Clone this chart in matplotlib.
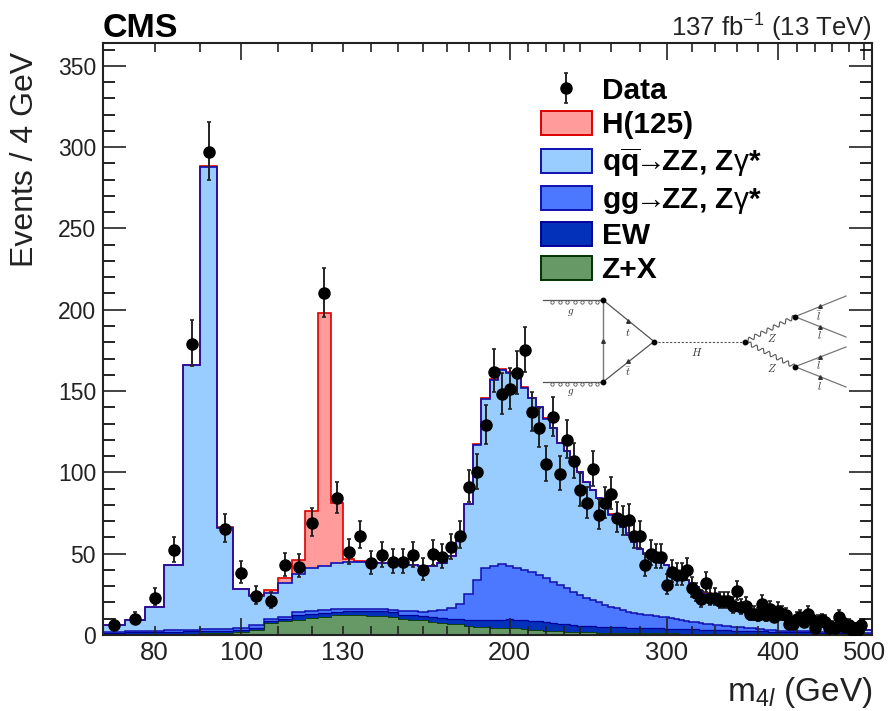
import numpy as np
import matplotlib
matplotlib.use('Agg')
import matplotlib.pyplot as plt
import matplotlib.patches as mpatches

plt.rcParams['font.family'] = ['Liberation Sans', 'DejaVu Sans']
plt.rcParams['mathtext.fontset'] = 'custom'
plt.rcParams['mathtext.rm'] = 'Liberation Sans'
plt.rcParams['mathtext.it'] = 'Liberation Sans:italic'
plt.rcParams['mathtext.bf'] = 'Liberation Sans:bold'

#data, 4 GeV bins from 70 to 510
edges = np.arange(70, 514, 4)

data_y = [6, 10, 23, 52, 179, 297, 65, 38, 24, 21,
          43, 42, 69, 210, 84, 51, 61, 44, 49, 45,
          45, 49, 40, 50, 48, 54, 61, 91, 100, 129,
          162, 148, 151, 161, 175, 137, 127, 105, 134, 99,
          120, 107, 89, 81, 102, 74, 81, 87, 72, 70,
          71, 61, 61, 43, 50, 48, 48, 31, 39, 37,
          37, 40, 29, 26, 22, 32, 23, 23, 21, 21,
          21, 18, 27, 17, 18, 13, 13, 12, 19, 12,
          16, 11, 15, 13, 12, 7, 7, 10, 11, 8,
          13, 10, 4, 8, 9, 8, 4, 5, 4, 11,
          8, 5, 6, 3, 4, 3, 6]
data_dn = [2.4, 3.1, 4.8, 7.2, 13.4, 17.2, 8.1, 6.2, 4.9, 4.6,
           6.6, 6.5, 8.3, 14.5, 9.2, 7.1, 7.8, 6.6, 7.0, 6.7,
           6.7, 7.0, 6.3, 7.1, 6.9, 7.3, 7.8, 9.5, 10.0, 11.4,
           12.7, 12.2, 12.3, 12.7, 13.2, 11.7, 11.3, 10.2, 11.6, 9.9,
           11.0, 10.3, 9.4, 9.0, 10.1, 8.6, 9.0, 9.3, 8.5, 8.4,
           8.4, 7.8, 7.8, 6.6, 7.1, 6.9, 6.9, 5.6, 6.2, 6.1,
           6.1, 6.3, 5.4, 5.1, 4.7, 5.7, 4.8, 4.8, 4.6, 4.6,
           4.6, 4.2, 5.2, 4.1, 4.2, 3.6, 3.6, 3.5, 4.4, 3.5,
           4.0, 3.3, 3.9, 3.6, 3.5, 2.6, 2.6, 3.1, 3.3, 2.8,
           3.6, 3.1, 1.9, 2.8, 3.0, 2.8, 1.9, 2.2, 1.9, 3.3,
           2.8, 2.2, 2.4, 1.6, 1.9, 1.6, 2.4]
data_up = [3.6, 4.3, 5.9, 8.3, 14.4, 18.2, 9.1, 7.2, 6.0, 5.7,
           7.6, 7.5, 9.3, 15.5, 10.2, 8.2, 8.9, 7.7, 8.0, 7.7,
           7.7, 8.0, 7.4, 8.2, 8.0, 8.4, 8.9, 10.6, 11.0, 12.4,
           13.7, 13.2, 13.3, 13.7, 14.2, 12.7, 12.3, 11.3, 12.6, 11.0,
           12.0, 11.3, 10.5, 10.0, 11.1, 9.6, 10.0, 10.4, 9.5, 9.4,
           9.4, 8.9, 8.9, 7.7, 8.2, 8.0, 8.0, 6.6, 7.3, 7.1,
           7.1, 7.4, 6.5, 6.2, 5.8, 6.7, 5.9, 5.9, 5.7, 5.7,
           5.7, 5.3, 6.3, 5.2, 5.3, 4.7, 4.7, 4.6, 5.5, 4.6,
           5.1, 4.4, 5.0, 4.7, 4.6, 3.8, 3.8, 4.3, 4.4, 4.0,
           4.7, 4.3, 3.2, 4.0, 4.1, 4.0, 3.2, 3.4, 3.2, 4.4,
           4.0, 3.4, 3.6, 2.9, 3.2, 2.9, 3.6]

#top of each stacked layer
top_qq = [6, 9, 17, 43, 166, 288, 66, 28, 24, 26,
          32, 37.5, 41.5, 42.7, 44, 45, 45, 44.5, 44, 44,
          43.5, 43, 42.5, 42.4, 44, 48.6, 60, 80.5, 117, 145,
          157, 163, 161, 159, 152, 145.5, 140, 133, 127, 118,
          113, 108, 100, 94, 89, 84, 81, 74, 70, 66.5,
          61.5, 57, 53, 50, 48, 46, 44.5, 43, 41, 38,
          36, 34, 32, 29.5, 27, 25.5, 24, 23, 22, 21,
          20, 19, 18.5, 18, 17, 16, 15, 14.4, 14, 13,
          12.5, 12, 11.2, 11, 10, 9.5, 9, 8.3, 8, 7.5,
          7.2, 6.8, 6.6, 6.3, 6, 5.6, 5.3, 5, 4.8, 4.6,
          4.4, 4.2, 4, 3.8, 3.5, 3.3, 3.2, 3, 2.9, 2.8]
h_yield = [0, 0, 0, 0, 0, 0.3, 0.3, 0.2, 0.6, 1.7,
           3.3, 8.5, 35, 155, 37, 2, 0.3, 0.3, 0.3, 0.2,
           0.2, 0.2, 0.2, 0.2, 0.2, 0.2, 0.2, 0.2, 0.4, 0.5,
           0.5, 0.5, 0.5, 0.4, 0.4, 0.4, 0.3, 0.3, 0.3, 0.3,
           0.3, 0.2, 0.2, 0.2, 0.2, 0.2, 0.2, 0.2, 0.2, 0.2,
           0.1, 0.1, 0.1, 0.1, 0.1, 0.1, 0.1, 0.1, 0.1, 0.1,
           0.1, 0.1, 0.1, 0.1, 0.1, 0.1, 0.1, 0.1, 0.1, 0.1,
           0, 0, 0, 0, 0, 0, 0, 0, 0, 0,
           0, 0, 0, 0, 0, 0, 0, 0, 0, 0,
           0, 0, 0, 0, 0, 0, 0, 0, 0, 0,
           0, 0, 0, 0, 0, 0, 0, 0, 0, 0]
top_gg = [2, 2.3, 2.6, 2.9, 3.2, 3.4, 3.6, 4.2, 6, 10,
          11.2, 14.4, 15, 15.5, 16, 16, 16.2, 16, 15.7, 15.3,
          14.8, 14.5, 14.3, 15, 15.4, 16.4, 19, 25, 34, 41,
          42.6, 43.5, 42.6, 41.5, 40, 38.5, 37, 35, 32.4, 30.7,
          28.7, 26.6, 24.6, 22.5, 21.5, 20, 18.4, 17.4, 16.4, 15.4,
          14.3, 13.6, 13, 12.3, 12, 11.5, 11, 10.9, 10.2, 9.6,
          9, 8.6, 8.2, 7.8, 7.4, 7, 6.7, 6.4, 6.2, 5.8,
          5.5, 5.2, 5, 4.7, 4.4, 4.2, 4, 3.8, 3.6, 3.3,
          3.1, 2.9, 2.7, 2.6, 2.55, 2.5, 2.45, 2.4, 2.35, 2.3,
          2.2, 2.1, 2, 1.9, 1.85, 1.8, 1.75, 1.7, 1.65, 1.6,
          1.55, 1.5, 1.45, 1.4, 1.35, 1.3, 1.25, 1.2, 1.15, 1.1]
top_ew = [1.5, 1.7, 1.9, 2, 2.2, 2.4, 2.6, 3, 4.5, 8.5,
          9.8, 12.5, 13.2, 13.8, 14.2, 14.8, 15, 14.8, 14.5, 14,
          12.5, 12, 11.5, 11, 10.5, 10, 9.8, 9.5, 9.2, 9,
          9, 9, 9.6, 9.4, 9, 8.8, 8.4, 8, 7.6, 7,
          6.6, 6, 5.6, 5.4, 5.3, 5.2, 5.1, 5, 4.9, 4.8,
          4.6, 4.5, 4.4, 4.3, 4.2, 4.1, 4, 3.9, 3.8, 3.7,
          3.6, 3.6, 3.5, 3.4, 3.3, 3.2, 3.1, 3, 2.9, 2.8,
          2.8, 2.7, 2.7, 2.6, 2.5, 2.5, 2.4, 2.3, 2.3, 2.2,
          2.1, 2.1, 2, 2, 1.9, 1.9, 1.8, 1.8, 1.7, 1.7,
          1.6, 1.6, 1.5, 1.5, 1.4, 1.4, 1.3, 1.3, 1.2, 1.2,
          1.1, 1.1, 1.1, 1, 1, 1, 0.9, 0.9, 0.9, 0.8]
top_zx = [0.5, 0.6, 0.7, 0.8, 0.9, 1, 1.2, 1.7, 3, 7.5,
          8.5, 9.5, 10.5, 11, 12, 12.3, 12, 11.8, 11.5, 11,
          10, 9.5, 9, 8.2, 7.5, 7, 6.5, 5.8, 5.2, 4.8,
          4.5, 4.3, 4.2, 4, 3.6, 3.2, 3, 2.7, 2.5, 2.3,
          2.1, 2, 1.8, 1.7, 1.6, 1.5, 1.5, 1.4, 1.4, 1.3,
          1.3, 1.2, 1.2, 1.2, 1.1, 1.1, 1.1, 1, 1, 1,
          0.9, 0.9, 0.9, 0.9, 0.8, 0.8, 0.8, 0.8, 0.7, 0.7,
          0.7, 0.7, 0.7, 0.6, 0.6, 0.6, 0.6, 0.6, 0.6, 0.5,
          0.5, 0.5, 0.5, 0.5, 0.5, 0.5, 0.5, 0.4, 0.4, 0.4,
          0.4, 0.4, 0.4, 0.4, 0.4, 0.4, 0.4, 0.4, 0.3, 0.3,
          0.3, 0.3, 0.3, 0.3, 0.3, 0.3, 0.3, 0.3, 0.3, 0.3]

major_x = [100, 200, 300, 400, 500]
minor_x = [70, 80, 90, 110, 120, 130, 140, 150, 160, 170, 180, 190, 210, 220, 230, 240,
           260, 280, 320, 340, 360, 380, 420, 440, 460, 480]
label_x = [80, 100, 130, 200, 300, 400, 500]

h_color = ('#ff9b9b', '#dd0000')
qq_color = ('#99ccff', '#1010b0')
gg_color = ('#4b78ff', '#1010b0')
ew_color = ('#0331b9', '#000099')
zx_color = ('#669966', '#003300')

fig = plt.figure(figsize=(8.89, 7.11), dpi=100)
ax = fig.add_axes([103/889, 1-635/711, (872-103)/889, (635-43)/711])

#draw back to front so the stack hides what is behind it
top_h = np.array(top_qq) + np.array(h_yield)
for top, col, w in [(top_h, h_color, 1.2), (top_qq, qq_color, 1.2), (top_gg, gg_color, 1.1),
                    (top_ew, ew_color, 0.9), (top_zx, zx_color, 0.6)]:
    ax.stairs(top, edges, baseline=0, fill=True, color=col[0], zorder=1)
    ax.stairs(top, edges, baseline=0, fill=False, color=col[1], lw=w, zorder=1.1)

x_data = edges[:len(data_y)] + 2
ebar = ax.errorbar(x_data, data_y, yerr=[data_dn, data_up], fmt='o', color='black', ms=8,
                   ecolor='#222222', elinewidth=1.4, capsize=1.5, capthick=1.2, zorder=5)

ax.set_xscale('log')
ax.set_xlim(70, 510)
ax.set_ylim(0, 364)
ax.set_xticks(major_x)
ax.set_xticks(minor_x, minor=True)
ax.set_xticklabels([])
ax.set_xticklabels([], minor=True)
ax.set_yticks(np.arange(0, 351, 50))
ax.set_yticks(np.arange(0, 361, 10), minor=True)
ax.tick_params(axis='y', which='major', direction='in', length=16.5, width=1.2, left=True, right=True,
               labelsize=16.5, pad=5, colors='#222222')
ax.tick_params(axis='y', which='minor', direction='in', length=8.5, width=1.2, left=True, right=True)
ax.tick_params(axis='x', which='major', direction='in', length=12.5, width=1.2, bottom=True, top=True,
               color='#222222')
ax.tick_params(axis='x', which='minor', direction='in', length=6.5, width=1.2, bottom=True, top=True,
               color='#222222')
for s in ax.spines.values():
    s.set_linewidth(1.5)
    s.set_color('#222222')

for v in label_x:
    ax.annotate(str(v), xy=(v, 0), xycoords=ax.get_xaxis_transform(), xytext=(0, -4), textcoords='offset points',
                ha='center', va='top', fontsize=18.5, color='#222222')

ax.set_ylabel('Events / 4 GeV', fontsize=23, color='#222222', ha='right', labelpad=0)
ax.yaxis.set_label_coords(-0.082, 0.985)
ax.text(1.0, -0.097, r'm$_{4\mathit{l}}$ (GeV)', transform=ax.transAxes, ha='right', va='center',
        fontsize=24, color='#222222')
ax.text(0.0, 0.998, 'CMS', transform=ax.transAxes, ha='left', va='bottom', fontsize=24.5, fontweight='bold')
ax.text(1.0, 0.998, r'137 fb$^{-1}$ (13 TeV)', transform=ax.transAxes, ha='right', va='bottom',
        fontsize=18.5, color='#222222')

handles = [ebar,
           mpatches.Patch(facecolor=h_color[0], edgecolor=h_color[1], lw=1.4),
           mpatches.Patch(facecolor=qq_color[0], edgecolor=qq_color[1], lw=1.4),
           mpatches.Patch(facecolor=gg_color[0], edgecolor=gg_color[1], lw=1.4),
           mpatches.Patch(facecolor=ew_color[0], edgecolor=ew_color[1], lw=1.4),
           mpatches.Patch(facecolor=zx_color[0], edgecolor=zx_color[1], lw=1.4)]
labels = ['Data', 'H(125)', r'$\mathbf{q\overline{q}}\!\!\rightarrow\!\!$ZZ, Z$\mathrm{\gamma}$*',
          r'gg$\!\!\rightarrow\!\!$ZZ, Z$\mathrm{\gamma}$*', 'EW', 'Z+X']
leg = fig.legend(handles, labels, loc='upper left', bbox_to_anchor=(541/889, 1-77/711), borderaxespad=0, borderpad=0,
                 frameon=False, prop={'size': 21.5, 'weight': 'bold'}, handlelength=1.7, handleheight=0.85,
                 handletextpad=0.33, labelspacing=0.2, numpoints=1)

#feynman diagram, drawn in picture pixels
ov = fig.add_axes([0, 0, 1, 1], facecolor='none')
ov.set_xlim(0, 889)
ov.set_ylim(711, 0)
ov.axis('off')
c_line = '#555555'

def wavy(x0, y0, x1, y1, n=8, amp=2.0):
    t = np.linspace(0, 1, 200)
    dx, dy = x1-x0, y1-y0
    l = np.hypot(dx, dy)
    w = amp*np.sin(2*np.pi*n*t)
    ov.plot(x0+dx*t-dy/l*w, y0+dy*t+dx/l*w, color=c_line, lw=0.8)

for y in (300, 382):
    ov.plot([543, 603], [y, y], color=c_line, lw=0.9)
    ov.plot(np.linspace(552, 597, 7), [y+1.5]*7, 'o', ms=2.4, mfc='white', mec=c_line, mew=0.6)
ov.plot([603, 603], [300, 382], color='#777777', lw=1.0)
ov.plot([654, 745], [341.5, 341.5], color=c_line, lw=0.8, ls=(0, (2, 1.5)))
wavy(745, 341.5, 795, 316.7)
wavy(745, 341.5, 795, 366.7)
for y0, y1, y2 in [(316.7, 296, 337), (366.7, 347, 387)]:
    ov.plot([795, 846], [y0, y1], color='#777777', lw=0.9)
    ov.plot([795, 846], [y0, y2], color='#777777', lw=0.9)
    ov.plot([820, 820], [y0+(y1-y0)*0.5, y0+(y2-y0)*0.5], '^', color='#333333', ms=2.6)
ov.plot([603, 654], [300, 341.5], color=c_line, lw=0.9)
ov.plot([603, 654], [382, 341.5], color=c_line, lw=0.9)
ov.plot([603, 628, 628], [341, 321, 361], '^', color='#333333', ms=2.6)
ov.plot([603, 603, 654, 745, 795, 795], [300, 382, 341.5, 341.5, 316.7, 366.7], 'o', color='black', ms=3.2)
for x, y, s in [(571, 312, '$g$'), (571, 393, '$g$'), (628, 332, '$t$'), (628, 372, r'$\bar{t}$'),
                (697, 352, '$H$'), (772, 338, '$Z$'), (772, 368, '$Z$'),
                (819, 316, r'$\bar{l}$'), (819, 335, '$l$'), (819, 365, r'$\bar{l}$'), (819, 386, '$l$')]:
    ov.text(x, y, s, ha='center', va='center', fontsize=8, color='#333333', math_fontfamily='cm')

fig.savefig('out.png', dpi=100)
